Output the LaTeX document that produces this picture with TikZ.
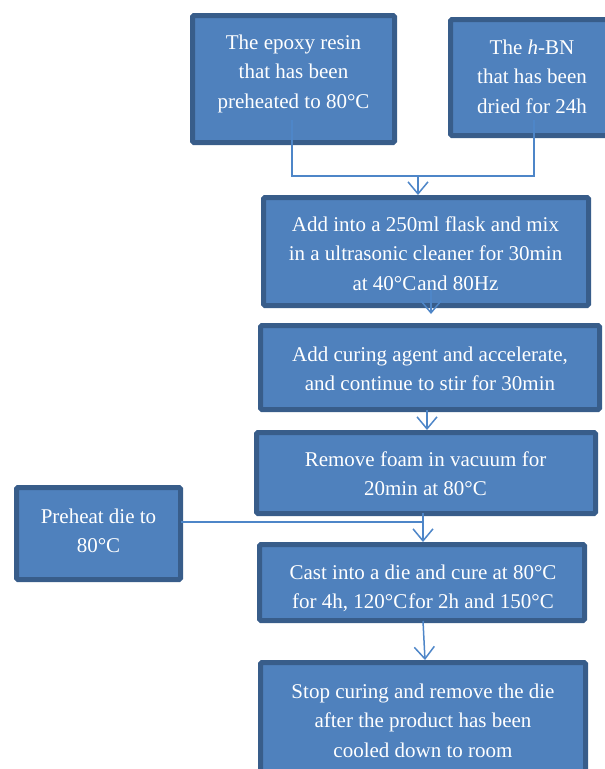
\documentclass[tikz,border=0pt]{standalone}
\usepackage{fontspec}
\setmainfont{Liberation Serif}
\usetikzlibrary{arrows.meta}
\definecolor{boxfill}{HTML}{4F81BD}
\definecolor{boxline}{HTML}{385D8A}
\definecolor{linkc}{HTML}{4E86C8}
\tikzset{
  box/.style={draw=boxline, fill=boxfill, line width=5pt, rounded corners=1.5pt, inner sep=0pt, outer sep=0pt},
  txt/.style={text=white, font=\fontsize{21}{29.5}\selectfont, align=center, inner sep=0pt, anchor=north},
  link/.style={draw=linkc, line width=1.5pt},
  arr/.style={link, -{Straight Barb[length=12pt,width=20pt]}}
}
\begin{document}
\begin{tikzpicture}[x=1pt,y=-1pt]
\useasboundingbox (0,0) rectangle (605,769);
% boxes
\node[box, minimum width=202, minimum height=127] (b1) at (293.5,79) {};
\node[box, minimum width=163, minimum height=116] (b2) at (532,77.5) {};
\node[box, minimum width=325, minimum height=108] (b3) at (426,251.5) {};
\node[box, minimum width=339, minimum height=84] (b4) at (430,367.5) {};
\node[box, minimum width=339, minimum height=81] (b5) at (426,473) {};
\node[box, minimum width=164, minimum height=92] (bp) at (98.5,533.5) {};
\node[box, minimum width=325, minimum height=76] (b6) at (422,582.5) {};
\node[box, minimum width=325, minimum height=135] (b7) at (423,730) {};
% connector points
\coordinate (s1) at (292,120);
\coordinate (s2) at (534,120);
\coordinate (j1) at (418,176);
\coordinate (e1) at (418,195);
\coordinate (s3) at (431,290);
\coordinate (e3) at (431,314);
\coordinate (s4) at (427,410);
\coordinate (e4) at (427,430);
\coordinate (j5) at (423,522);
\coordinate (s5) at (423,513);
\coordinate (e5) at (423,542);
\coordinate (s6) at (423,621);
\coordinate (e6) at (425,660);
% connectors
\draw[link] (s1) |- (j1) -| (s2);
\draw[arr] (j1) -- (e1);
\draw[arr] (s3) -- (e3);
\draw[arr] (s4) -- (e4);
\draw[link] (bp.east |- j5) -- (j5);
\draw[arr] (s5) -- (e5);
\draw[arr] (s6) -- (e6);
% texts
\node[txt] (t1) at (293.5,28.4) {\strut The epoxy resin\\ \strut that has been\\ \strut preheated to 80°C};
\node[txt] (t2) at (532,33.4) {\strut The \textit{h}-BN\\ \strut that has been\\ \strut dried for 24h};
\node[txt] (t3) at (425.5,210.4) {\strut Add into a 250ml flask and mix\\ \strut in a ultrasonic cleaner for 30min\\ \strut at 40°C\hspace{1pt}and 80Hz};
\node[txt] (t4) at (430,340.4) {\strut Add curing agent and accelerate,\\ \strut and continue to stir for 30min};
\node[txt] (t5) at (425.5,445.4) {\strut Remove foam in vacuum for\\ \strut 20min at 80°C};
\node[txt] (tp) at (98.5,502.4) {\strut Preheat die to\\ \strut 80°C};
\node[txt] (t6) at (423,558.4) {\strut Cast into a die and cure at 80°C\\ \strut for 4h, 120°C\hspace{1pt}for 2h and 150°C};
\node[txt] (t7) at (423,677.4) {\strut Stop curing and remove the die\\ \strut after the product has been\\ \strut cooled down to room};
\end{tikzpicture}
\end{document}
